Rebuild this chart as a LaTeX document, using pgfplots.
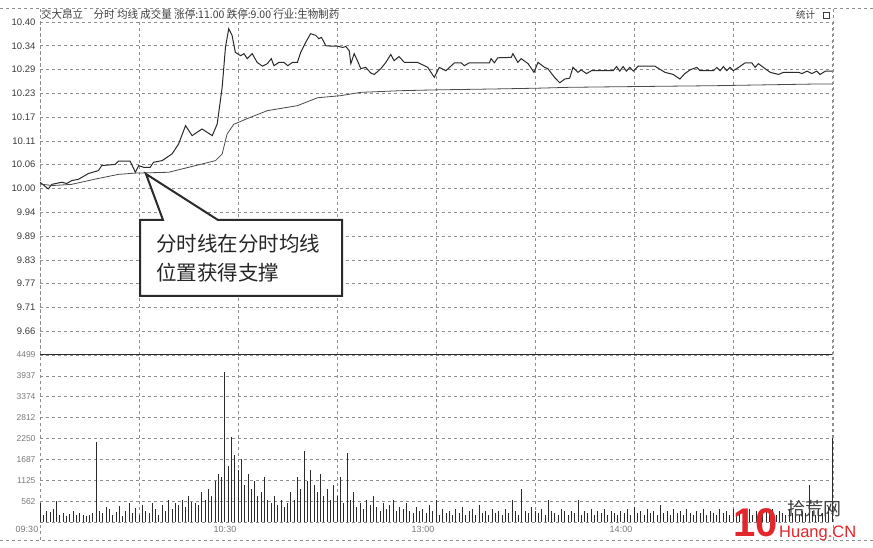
\documentclass[border=0pt]{standalone}
\usepackage{fontspec}
\setmainfont{Liberation Sans}
\newfontfamily\cjk{Noto Sans CJK SC}
\usepackage{pgfplots}
\pgfplotsset{compat=1.18}
\definecolor{linec}{HTML}{2B2B2B}
\definecolor{avgc}{HTML}{4A4A4A}
\definecolor{gridc}{HTML}{8E8E8E}
\definecolor{txtc}{HTML}{3C3C3C}
\definecolor{lightc}{HTML}{7A7A7A}
\definecolor{wmred}{HTML}{E3262C}

\pgfplotstableread{
m v
0 520
1 180
2 300
3 280
4 350
5 560
6 200
7 250
8 150
9 220
10 300
11 180
12 250
13 200
14 150
15 180
16 240
17 2150
18 300
19 250
20 400
21 350
22 200
23 280
24 420
25 150
26 300
27 500
28 250
29 380
30 200
31 450
32 300
33 250
34 500
35 350
36 200
37 450
38 300
39 600
40 350
41 500
42 450
43 600
44 400
45 700
46 550
47 500
48 450
49 800
50 600
51 900
52 700
53 1100
54 1300
55 1200
56 4050
57 1500
58 2300
59 1800
60 1400
61 1700
62 1000
63 1300
64 900
65 1100
66 700
67 800
68 1200
69 600
70 500
71 700
72 450
73 600
74 400
75 500
76 800
77 600
78 1200
79 900
80 1900
81 1100
82 1400
83 1000
84 800
85 1300
86 700
87 900
88 600
89 1000
90 700
91 1200
92 500
93 1850
94 600
95 800
96 400
97 500
98 350
99 600
100 450
101 700
102 400
103 300
104 500
105 350
106 450
107 600
108 300
109 400
110 350
111 500
112 300
113 250
114 400
115 300
116 350
117 250
118 450
119 300
120 600
121 200
122 350
123 250
124 300
125 200
126 350
127 250
128 400
129 200
130 300
131 350
132 200
133 450
134 250
135 300
136 200
137 350
138 250
139 300
140 200
141 350
142 250
143 600
144 300
145 200
146 900
147 300
148 250
149 400
150 300
151 250
152 350
153 200
154 600
155 300
156 250
157 200
158 350
159 300
160 200
161 300
162 250
163 600
164 200
165 300
166 250
167 350
168 200
169 300
170 250
171 350
172 200
173 300
174 250
175 200
176 300
177 250
178 350
179 200
180 400
181 250
182 300
183 200
184 350
185 250
186 300
187 200
188 450
189 250
190 300
191 200
192 350
193 250
194 300
195 200
196 350
197 250
198 200
199 300
200 250
201 350
202 200
203 300
204 250
205 200
206 350
207 250
208 300
209 200
210 350
211 250
212 300
213 200
214 250
215 350
216 200
217 300
218 250
219 200
220 300
221 250
222 350
223 200
224 300
225 250
226 200
227 350
228 250
229 300
230 200
231 300
232 250
233 1000
234 300
235 200
236 350
237 250
238 300
239 400
240 2250
}\voltable

\begin{document}
\begin{tikzpicture}[x=1pt,y=1pt]
\useasboundingbox (0,0) rectangle (873,547);
\fill[white] (0,0) rectangle (873,547);
% frame
\draw[gridc, dashed, line width=0.6pt] (0,539) -- (873,539);
\draw[gridc, dashed, line width=0.6pt] (0,7) -- (873,7);
\draw[gridc, dashed, line width=0.6pt] (40,7) -- (40,539);
\draw[gridc, dashed, line width=0.6pt] (833,7) -- (833,539);

% price panel
\begin{axis}[
  at={(40pt,192pt)}, anchor=south west, scale only axis,
  width=792pt, height=333pt,
  xmin=0, xmax=240, ymin=9.6, ymax=10.4,
  axis line style={draw=none},
  major tick length=0pt,
  xtick={0,30,...,240}, xticklabels={},
  ytick={9.657143,9.714286,9.771429,9.828571,9.885714,9.942857,10.057143,10.114286,10.171429,10.228571,10.285714,10.342857,10.4},
  yticklabels={9.66,9.71,9.77,9.83,9.89,9.94,10.06,10.11,10.17,10.23,10.29,10.34,10.40},
  extra y ticks={10}, extra y tick labels={10.00},
  extra y tick style={grid style={solid, draw=linec, line width=0.9pt}},
  grid=major,
  major grid style={draw=gridc, dashed, line width=0.6pt},
  /pgf/number format/assume math mode=true,
  yticklabel style={font=\fontsize{9.5}{10}\selectfont, text=txtc, xshift=-1pt},
  clip=false,
]
\addplot[linec, line width=1pt] coordinates {
(0,10.015) (2.5,9.999) (3.6,10.010) (6.6,10.015) (8.1,10.012) (9.6,10.019) (11.6,10.022) (14.7,10.036) (17.7,10.043) (18.7,10.055) (22.8,10.058) (23.8,10.066) (27.3,10.066) (28.9,10.039) (29.9,10.055) (31.4,10.051) (33.4,10.051) (34.4,10.063) (37.0,10.067) (40.0,10.083) (42.0,10.107) (44.1,10.151) (46.1,10.127) (49.1,10.143) (52.2,10.127) (53.7,10.155) (55.2,10.243) (56.2,10.339) (57.2,10.384) (58.2,10.368) (59.2,10.327) (60.8,10.319) (61.8,10.324) (62.8,10.312) (64.3,10.324) (65.8,10.303) (67.4,10.294) (68.9,10.300) (70.1,10.312) (70.9,10.295) (72.4,10.303) (73.9,10.303) (75.1,10.295) (76.5,10.303) (78.0,10.303) (79.0,10.327) (80.5,10.351) (82.0,10.372) (83.5,10.368) (84.5,10.360) (85.3,10.363) (86.6,10.343) (88.1,10.342) (90.1,10.342) (91.7,10.339) (92.7,10.341) (93.7,10.331) (94.2,10.300) (95.2,10.324) (96.2,10.307) (97.2,10.288) (98.7,10.291) (100.3,10.277) (101.3,10.274) (103.3,10.288) (104.8,10.303) (106.3,10.322) (107.3,10.307) (108.8,10.317) (110.4,10.303) (114.4,10.303) (117.5,10.291) (119.5,10.267) (121.0,10.291) (123.0,10.283) (125.6,10.302) (127.6,10.302) (128.6,10.295) (130.1,10.302) (136.2,10.302) (136.7,10.312) (137.7,10.302) (138.7,10.314) (142.8,10.315) (143.3,10.324) (144.8,10.303) (145.8,10.312) (147.9,10.300) (149.7,10.279) (150.9,10.303) (152.9,10.291) (153.9,10.288) (155.9,10.267) (157.5,10.254) (159.0,10.263) (160.5,10.265) (161.5,10.291) (163.0,10.279) (164.0,10.285) (165.6,10.276) (167.1,10.283) (170.1,10.283) (173.7,10.283) (174.7,10.293) (175.7,10.282) (176.7,10.293) (177.7,10.282) (178.7,10.291) (179.8,10.282) (181.3,10.294) (186.3,10.294) (189.4,10.279) (191.9,10.274) (193.9,10.263) (195.4,10.276) (197.0,10.285) (199.0,10.291) (200.0,10.283) (204.1,10.283) (205.1,10.291) (206.1,10.283) (207.1,10.293) (208.1,10.283) (209.1,10.291) (210.1,10.283) (211.7,10.291) (213.7,10.302) (215.7,10.302) (216.7,10.291) (217.7,10.300) (219.7,10.288) (221.3,10.279) (223.8,10.274) (225.3,10.279) (229.9,10.279) (230.9,10.276) (232.4,10.282) (233.9,10.276) (235.4,10.282) (236.4,10.274) (238.0,10.282) (240,10.282)
};
\addplot[avgc, line width=0.8pt] coordinates {
(0,10.011) (3.6,10.007) (9.6,10.010) (17.0,10.023) (23.8,10.034) (28.9,10.037) (39,10.039) (46.1,10.053) (53.2,10.067) (55.2,10.083) (56.7,10.131) (58.7,10.154) (62.8,10.168) (68.9,10.187) (78.0,10.199) (84.1,10.218) (91.1,10.223) (97.2,10.231) (109.4,10.235) (120.5,10.237) (136.7,10.239) (150.9,10.241) (160,10.243) (170.1,10.244) (204.6,10.247) (234.9,10.251) (240,10.251)
};
\end{axis}

% right percentage labels
\begin{axis}[
  at={(40pt,192pt)}, anchor=south west, scale only axis,
  width=792pt, height=333pt,
  xmin=0, xmax=240, ymin=9.6, ymax=10.4,
  axis lines=none, hide x axis,
  axis y line*=right, y axis line style={draw=none},
  major tick length=0pt,
  ytick={9.657143,9.714286,9.771429,9.828571,9.885714,9.942857,10,10.057143,10.114286,10.171429,10.228571,10.285714,10.342857,10.4},
  yticklabels={3.43\%,2.86\%,2.29\%,1.71\%,1.14\%,0.57\%,0.00\%,0.57\%,1.14\%,1.71\%,2.29\%,2.86\%,3.43\%,4.00\%},
  /pgf/number format/assume math mode=true,
  yticklabel style={font=\fontsize{9}{10}\selectfont, text=txtc, xshift=-1pt},
]
\addplot[draw=none] coordinates {(0,10) (240,10)};
\end{axis}

% volume panel
\begin{axis}[
  at={(40pt,25pt)}, anchor=south west, scale only axis,
  width=792pt, height=167pt,
  xmin=0, xmax=240, ymin=0, ymax=4499,
  axis line style={draw=none},
  major tick length=0pt,
  xtick={0,30,...,240},
  xticklabels={09:30,,10:30,,13:00,,14:00,,},
  ytick={0,562,1125,1687,2250,2812,3374,3937,4499},
  yticklabels={,562,1125,1687,2250,2812,3374,3937,4499},
  grid=major,
  major grid style={draw=gridc, dashed, line width=0.6pt},
  /pgf/number format/assume math mode=true,
  yticklabel style={font=\fontsize{8.5}{10}\selectfont, text=lightc, xshift=-1pt},
  xticklabel style={font=\fontsize{9}{10}\selectfont, text=lightc, xshift=-13pt, yshift=-1pt},
  clip=false,
]
\addplot[ycomb, draw=linec, line width=0.8pt, no marks] table[x=m, y=v] {\voltable};
\draw[linec, line width=1pt] (axis cs:0,4499) -- (axis cs:240,4499);
\end{axis}

% right volume labels
\begin{axis}[
  at={(40pt,25pt)}, anchor=south west, scale only axis,
  width=792pt, height=167pt,
  xmin=0, xmax=240, ymin=0, ymax=4499,
  axis lines=none, hide x axis,
  axis y line*=right, y axis line style={draw=none},
  major tick length=0pt,
  ytick={1125,1687,2250,2812,3374,3937,4499},
  /pgf/number format/assume math mode=true,
  /pgf/number format/1000 sep={},
  yticklabel style={font=\fontsize{8.5}{10}\selectfont, text=lightc, xshift=-1pt},
]
\addplot[draw=none] coordinates {(0,0) (240,0)};
\end{axis}

% header
\node[anchor=west, text=txtc, inner sep=0pt] at (41,532) {\cjk\fontsize{10.5}{11}\selectfont 交大昂立\quad 分时 均线 成交量 涨停:11.00 跌停:9.00 行业:生物制药};
\node[anchor=west, text=txtc, inner sep=0pt] at (796,532) {\cjk\fontsize{9.5}{10}\selectfont 统计};
\draw[txtc, line width=0.5pt] (823,529) rectangle (829,535);

% callout
\draw[line width=2pt, draw=linec, fill=white, line join=miter]
  (140,327) -- (163,327) -- (146,373) -- (218,327) -- (342,327) -- (342,251) -- (140,251) -- cycle;
\node[anchor=west, text=black!85, inner sep=0pt] at (156,303) {\cjk\fontsize{20.5}{22}\selectfont 分时线在分时均线};
\node[anchor=west, text=black!85, inner sep=0pt] at (156,274) {\cjk\fontsize{20.5}{22}\selectfont 位置获得支撑};

% watermark
\node[anchor=west, text=wmred, inner sep=0pt] at (733,24) {\fontsize{40}{40}\selectfont\bfseries 10};
\node[anchor=west, text=black!75, inner sep=0pt] at (787,38) {\cjk\fontsize{18}{20}\selectfont 拾荒网};
\node[anchor=west, text=wmred, inner sep=0pt] at (779,14) {\fontsize{16.5}{18}\selectfont Huang.CN};
\end{tikzpicture}
\end{document}
